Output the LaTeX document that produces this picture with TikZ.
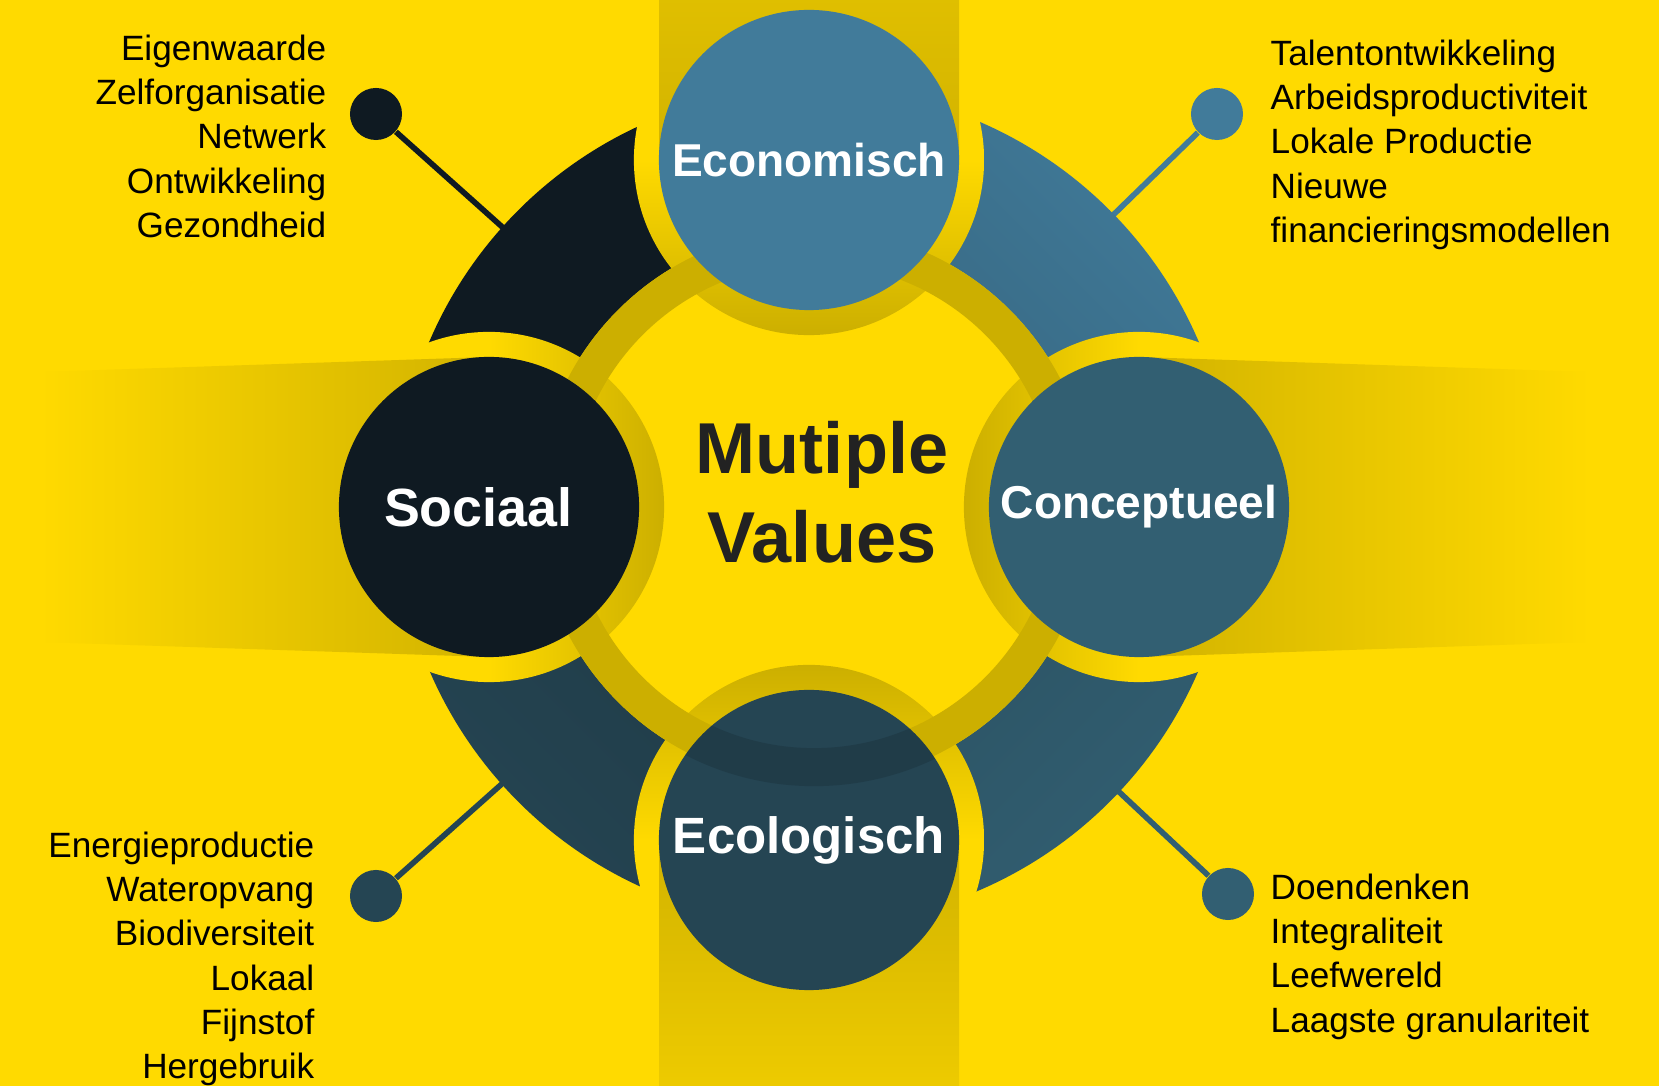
\documentclass[tikz,border=0pt]{standalone}
\usepackage{fontspec}
\setmainfont{Liberation Sans}
\usetikzlibrary{calc,positioning}
\definecolor{geel}{HTML}{FFDA00}
\definecolor{olijf}{HTML}{CCAF00}
\definecolor{schaduw}{HTML}{D2B300}
\definecolor{ecoblauw}{HTML}{417B9A}
\definecolor{conblauw}{HTML}{325F72}
\definecolor{ecodonker}{HTML}{254553}
\definecolor{socdonker}{HTML}{0F1A22}
\definecolor{tekst}{HTML}{222222}
\tikzset{
    mycircle/.style={circle, minimum size=3cm, inner sep=0pt, text=white, font=\bfseries\fontsize{13.1}{15}\selectfont},
    mylist/.style={inner sep=0pt, text=black, font=\fontsize{10}{12.6}\selectfont},
    stip/.style={circle, minimum size=0.52cm, inner sep=0pt},
    pil/.style={line width=1.6pt}
}

\begin{document}
\begin{tikzpicture}[x=0.01cm, y=-0.01cm]
    \useasboundingbox (0,0) rectangle (1659,1086);
    \fill[geel] (0,0) rectangle (1659,1086);
    \coordinate (ctr) at (814,506);
    \coordinate (cEco) at (809,160);
    \coordinate (cSoc) at (489,507);
    \coordinate (cCon) at (1139,507);
    \coordinate (cEcl) at (809,840);

    % stippen
    \node[stip, fill=socdonker] (dSoc) at (376,114) {};
    \node[stip, fill=ecoblauw] (dEco) at (1217,114) {};
    \node[stip, fill=ecodonker] (dEcl) at (376,896) {};
    \node[stip, fill=conblauw] (dCon) at (1228,894) {};
    \coordinate (pSoc) at ($(ctr)!4.1cm!(dSoc)$);
    \coordinate (pEco) at ($(ctr)!4.1cm!(dEco)$);
    \coordinate (pEcl) at ($(ctr)!4.1cm!(dEcl)$);
    \coordinate (pCon) at ($(ctr)!4.1cm!(dCon)$);
    \draw[pil, socdonker] (dSoc) -- (pSoc);
    \draw[pil, ecoblauw] (dEco) -- (pEco);
    \draw[pil, ecodonker] (dEcl) -- (pEcl);
    \draw[pil, conblauw] (dCon) -- (pCon);

    % bogen
    \shade[top color=ecoblauw, bottom color=ecoblauw!82!black, shading angle=-45]
      ($(ctr)+(0:2.77cm)$) -- ($(ctr)+(0:4.18cm)$) arc[start angle=0, end angle=90, radius=4.18cm]
      -- ($(ctr)+(90:2.77cm)$) arc[start angle=90, end angle=0, radius=2.77cm] -- cycle;
    \fill[socdonker] ($(ctr)+(90:2.77cm)$) -- ($(ctr)+(90:4.18cm)$) arc[start angle=90, end angle=180, radius=4.18cm]
      -- ($(ctr)+(180:2.77cm)$) arc[start angle=180, end angle=90, radius=2.77cm] -- cycle;
    \shade[top color=ecodonker!85!black, bottom color=ecodonker, shading angle=-45]
      ($(ctr)+(180:2.77cm)$) -- ($(ctr)+(180:4.18cm)$) arc[start angle=180, end angle=270, radius=4.18cm]
      -- ($(ctr)+(270:2.77cm)$) arc[start angle=270, end angle=180, radius=2.77cm] -- cycle;
    \shade[top color=conblauw!85!black, bottom color=conblauw, shading angle=45]
      ($(ctr)+(270:2.77cm)$) -- ($(ctr)+(270:4.18cm)$) arc[start angle=270, end angle=360, radius=4.18cm]
      -- ($(ctr)+(360:2.77cm)$) arc[start angle=360, end angle=270, radius=2.77cm] -- cycle;

    % ruimte rond de cirkels
    \shade[top color=geel, bottom color=olijf, middle color=geel] (cEco) circle[radius=1.75cm];
    \shade[left color=geel, right color=olijf, middle color=geel] (cSoc) circle[radius=1.75cm];
    \shade[left color=olijf, right color=geel, middle color=geel] (cCon) circle[radius=1.75cm];
    \shade[top color=olijf, bottom color=geel, middle color=geel] (cEcl) circle[radius=1.75cm];

    % ring
    \fill[olijf, even odd rule] (ctr) circle[radius=2.77cm] (ctr) circle[radius=2.42cm];

    % schaduwen
    \shade[left color=geel, right color=schaduw] (40,372) -- (489,357) -- (489,657) -- (40,642) -- cycle;
    \shade[left color=schaduw, right color=geel] (1139,357) -- (1590,372) -- (1590,642) -- (1139,657) -- cycle;
    \shade[top color=schaduw!70!geel, bottom color=schaduw] (659,0) rectangle (959,160);
    \shade[top color=schaduw, bottom color=schaduw!40!geel] (659,840) rectangle (959,1086);

    \node[mycircle, fill=ecoblauw] (econ) at (cEco) {Economisch};
    \node[mycircle, fill=socdonker, font=\bfseries\fontsize{15.3}{18}\selectfont] (soc) at (cSoc) {Sociaal\kern0.4em};
    \node[mycircle, fill=conblauw] (con) at (cCon) {Conceptueel};
    \node[mycircle, fill=ecodonker, font=\bfseries\fontsize{14.5}{17}\selectfont] (ecl) at (cEcl) {Ecologisch};
    \begin{scope}
      \clip (cEcl) circle[radius=1.5cm];
      \fill[black, opacity=0.13, even odd rule] (ctr) circle[radius=2.8cm] (ctr) circle[radius=2.42cm];
    \end{scope}

    \node[align=center, inner sep=0pt, text=tekst, font=\bfseries\fontsize{20.5}{25.3}\selectfont] (titel) at (822,492) {Mutiple\\Values};

    % lijsten
    \node[mylist, align=right, anchor=north east] (lSoc) at (327,34)
      {Eigenwaarde\\Zelforganisatie\\Netwerk\\Ontwikkeling\\Gezondheid};
    \node[mylist, align=left, anchor=north west] (lEco) at (1270,39)
      {Talentontwikkeling\\Arbeidsproductiviteit\\Lokale Productie\\Nieuwe\\financieringsmodellen};
    \node[mylist, align=right, anchor=north east] (lEcl) at (315,831)
      {Energieproductie\\Wateropvang\\Biodiversiteit\\Lokaal\\Fijnstof\\Hergebruik};
    \node[mylist, align=left, anchor=north west] (lCon) at (1270,873)
      {Doendenken\\Integraliteit\\Leefwereld\\Laagste granulariteit};
\end{tikzpicture}
\end{document}
